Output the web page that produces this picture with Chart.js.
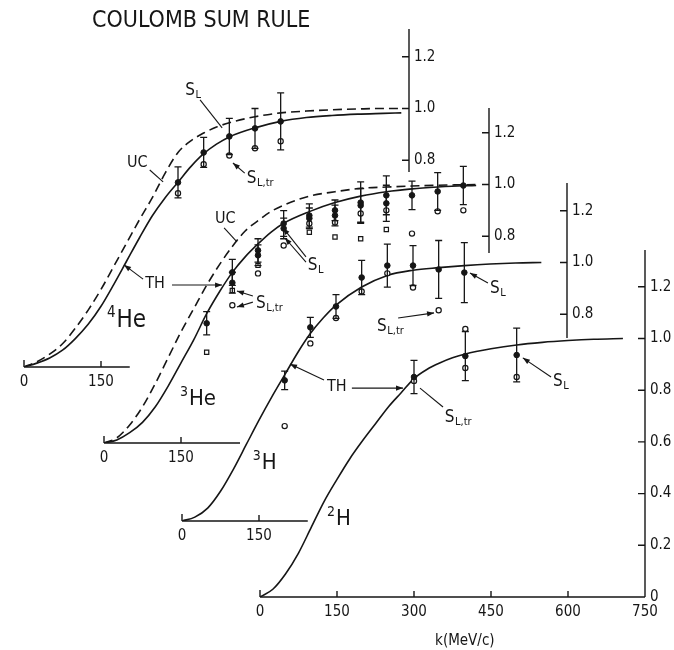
<!DOCTYPE html>
<html>
<head>
<meta charset="utf-8">
<title>Coulomb sum rule</title>
<script src="https://cdn.jsdelivr.net/npm/chart.js@4.4.1/dist/chart.umd.min.js"></script>
<style>
  html, body { margin: 0; padding: 0; background: #fff; }
  #wrap { position: relative; width: 674px; height: 650px; overflow: hidden; background: #fff; }
  #wrap canvas { position: absolute; left: 0; top: 0; }
</style>
</head>
<body>
<div id="wrap">
  <canvas id="c2H" width="674" height="650"></canvas>
  <canvas id="c3H" width="674" height="650"></canvas>
  <canvas id="c3He" width="674" height="650"></canvas>
  <canvas id="c4He" width="674" height="650"></canvas>
</div>
<script>
// ---------------- data ----------------
// momentum tick values and sum-rule tick values
const kTickValues = [0, 150, 300, 450, 600, 750];
const sTickValues = [0, 0.2, 0.4, 0.6, 0.8, 1.0, 1.2];
const kLabelsShort = [0, 150];
const sLabelsShort = [0.8, 1.0, 1.2];

// 4He: theory (TH) and uncorrelated (UC) curves
const kCurve4He = [0, 25, 50, 75, 100, 125, 150, 175, 200, 225, 250, 275, 300, 325, 350, 375, 400, 450, 500, 550, 600, 650, 700, 735];
const th4He = [0, 0.015, 0.035, 0.065, 0.11, 0.165, 0.235, 0.32, 0.41, 0.50, 0.585, 0.655, 0.715, 0.775, 0.825, 0.862, 0.89, 0.925, 0.95, 0.965, 0.973, 0.978, 0.981, 0.983];
const uc4He = [0, 0.02, 0.05, 0.09, 0.15, 0.22, 0.30, 0.39, 0.48, 0.57, 0.655, 0.75, 0.83, 0.875, 0.905, 0.928, 0.945, 0.968, 0.983, 0.99, 0.995, 0.998, 1.0, 1.0];
// 4He: measured S_L (with errors) and S_L,tr
const k4He = [300, 350, 400, 450, 500];
const sl4He = [0.714, 0.830, 0.892, 0.923, 0.950];
const sl4HeErr = [0.060, 0.058, 0.070, 0.077, 0.110];
const sltr4He = [0.672, 0.784, 0.818, 0.846, 0.873];

// 3He curves
const kCurve3He = [0, 25, 50, 75, 100, 125, 150, 175, 200, 225, 250, 275, 300, 325, 350, 400, 450, 500, 550, 600, 650, 700, 725];
const th3He = [0, 0.012, 0.04, 0.08, 0.14, 0.22, 0.31, 0.40, 0.50, 0.585, 0.66, 0.72, 0.77, 0.815, 0.85, 0.895, 0.93, 0.955, 0.972, 0.983, 0.99, 0.995, 0.996];
const uc3He = [0, 0.02, 0.07, 0.14, 0.23, 0.33, 0.43, 0.52, 0.61, 0.69, 0.76, 0.82, 0.86, 0.895, 0.92, 0.955, 0.972, 0.985, 0.99, 0.994, 0.997, 0.999, 1.0];
// 3He measurements (two S_L sets, S_L,tr circles and squares)
const k3He = [200, 250, 300, 350, 400, 450, 500, 550, 600, 650, 700];
const sl3He = [0.463, 0.660, 0.745, 0.849, 0.880, 0.900, 0.930, 0.958, 0.958, 0.973, 0.996];
const sl3HeErr = [0.045, 0.050, 0.045, 0.050, 0.045, 0.040, 0.080, 0.075, 0.055, 0.073, 0.074];
const k3HeB = [250, 300, 350, 400, 450, 500, 550];
const sl3HeB = [0.620, 0.726, 0.830, 0.869, 0.880, 0.919, 0.927];
const sl3HeBErr = [0.040, 0.040, 0.040, 0.040, 0.040, 0.065, 0.070];
const kTr3He = [250, 300, 350, 400, 450, 500, 550, 600, 650, 700];
const sltr3He = [0.533, 0.656, 0.764, 0.849, 0.853, 0.888, 0.900, 0.810, 0.896, 0.900];
const kSq3He = [200, 250, 300, 400, 450, 500, 550];
const sq3He = [0.351, 0.590, 0.687, 0.815, 0.797, 0.790, 0.826];

// 3H
const kCurve3H = [0, 25, 50, 75, 100, 125, 150, 175, 200, 225, 250, 275, 300, 350, 400, 450, 500, 550, 600, 650, 700];
const th3H = [0, 0.015, 0.05, 0.115, 0.20, 0.295, 0.39, 0.48, 0.565, 0.65, 0.725, 0.785, 0.835, 0.905, 0.95, 0.97, 0.98, 0.988, 0.994, 0.998, 1.0];
const k3H = [200, 250, 300, 350, 400, 450, 500, 550];
const sl3H = [0.544, 0.749, 0.830, 0.942, 0.988, 0.988, 0.973, 0.961];
const sl3HErr = [0.036, 0.039, 0.046, 0.066, 0.083, 0.077, 0.112, 0.116];
const kTr3H = [200, 250, 300, 350, 400, 450, 500];
const sltr3H = [0.367, 0.687, 0.785, 0.888, 0.958, 0.903, 0.815];

// 2H
const kCurve2H = [0, 25, 50, 75, 100, 125, 150, 175, 200, 225, 250, 275, 300, 325, 350, 375, 400, 450, 500, 550, 600, 650, 707];
const th2H = [0, 0.03, 0.09, 0.17, 0.27, 0.37, 0.455, 0.535, 0.605, 0.67, 0.735, 0.79, 0.845, 0.88, 0.905, 0.925, 0.94, 0.96, 0.975, 0.985, 0.992, 0.997, 1.0];
const k2H = [300, 400, 500];
const sl2H = [0.851, 0.932, 0.936];
const sl2HErr = [0.064, 0.095, 0.104];
const kTr2H = [300, 400, 400, 500];
const sltr2H = [0.836, 1.037, 0.886, 0.851];

// ---------------- drawing ----------------
const INK = '#161616';
const FONT = '"Liberation Sans Narrow", "DejaVu Sans Condensed", "Liberation Sans", sans-serif';
const CANVAS_W = 674, CANVAS_H = 650;
const AREA_W = 385;            // pixel length of 0..750 MeV/c
const S_MAX = 1.35;
const AREA_H = Math.round(S_MAX * 258.5);
const X_BAND = 30, Y_BAND = 30;

const pts = (ks, vs) => ks.map((k, i) => ({ x: k, y: vs[i] }));

function curve(ks, vs, dashed) {
  return {
    data: pts(ks, vs), showLine: true, pointRadius: 0, borderColor: INK,
    borderWidth: 1.6, borderDash: dashed ? [9, 5] : [], cubicInterpolationMode: 'monotone',
    fill: false, order: 10
  };
}
function filled(ks, vs, errs) {
  return { data: pts(ks, vs), errors: errs, showLine: false, pointStyle: 'circle', pointRadius: 2.8,
    pointBackgroundColor: INK, pointBorderColor: INK, pointBorderWidth: 1, order: 0 };
}
function openCircles(ks, vs) {
  return { data: pts(ks, vs), showLine: false, pointStyle: 'circle', pointRadius: 2.6,
    pointBackgroundColor: '#fff', pointBorderColor: INK, pointBorderWidth: 1.2, order: 2 };
}
function openSquares(ks, vs) {
  return { data: pts(ks, vs), showLine: false, pointStyle: 'rect', pointRadius: 3,
    pointBackgroundColor: '#fff', pointBorderColor: INK, pointBorderWidth: 1.2, order: 3 };
}

// vertical error bars with caps, drawn just before their own markers
const errorBars = {
  id: 'errorBars',
  beforeDatasetDraw(chart, args) {
    const ds = chart.data.datasets[args.index];
    if (!ds.errors) return;
    const { x, y } = chart.scales, ctx = chart.ctx;
    ctx.save();
    ctx.strokeStyle = INK; ctx.lineWidth = 1.3;
    ds.data.forEach((p, i) => {
      const e = ds.errors[i];
      if (!e) return;
      const px = x.getPixelForValue(p.x);
      const yt = y.getPixelForValue(p.y + e), yb = y.getPixelForValue(p.y - e);
      ctx.beginPath();
      ctx.moveTo(px, yt); ctx.lineTo(px, yb);
      ctx.moveTo(px - 3.5, yt); ctx.lineTo(px + 3.5, yt);
      ctx.moveTo(px - 3.5, yb); ctx.lineTo(px + 3.5, yb);
      ctx.stroke();
    });
    ctx.restore();
  }
};

// partial axis lines with inward tick marks
function axesPlugin(a) {
  return {
    id: 'panelAxes',
    beforeDatasetsDraw(chart) {
      const { x, y } = chart.scales, ctx = chart.ctx;
      ctx.save();
      ctx.strokeStyle = INK; ctx.lineWidth = 1.4;
      const y0 = y.getPixelForValue(0);
      const xr = x.getPixelForValue(750);
      ctx.beginPath();
      ctx.moveTo(x.getPixelForValue(0), y0);
      ctx.lineTo(x.getPixelForValue(a.xEnd), y0);
      a.xMarks.forEach(k => {
        const px = x.getPixelForValue(k);
        ctx.moveTo(px, y0); ctx.lineTo(px, y0 - (k === 0 ? 7 : 6));
      });
      ctx.moveTo(xr, y.getPixelForValue(a.yFrom));
      ctx.lineTo(xr, y.getPixelForValue(a.yTo));
      a.yMarks.forEach(s => {
        const py = y.getPixelForValue(s);
        ctx.moveTo(xr, py); ctx.lineTo(xr - 7, py);
      });
      ctx.stroke();
      ctx.restore();
    }
  };
}

// text labels and leader lines placed in the panel's own (k, S) coordinates
function notesPlugin(items) {
  return {
    id: 'notes',
    afterDraw(chart) {
      const { x, y } = chart.scales, ctx = chart.ctx;
      ctx.save();
      ctx.fillStyle = INK; ctx.strokeStyle = INK; ctx.lineWidth = 1.1;
      items.forEach(n => {
        if (n.from) {
          const x1 = x.getPixelForValue(n.from[0]), y1 = y.getPixelForValue(n.from[1]);
          const x2 = x.getPixelForValue(n.to[0]), y2 = y.getPixelForValue(n.to[1]);
          ctx.beginPath(); ctx.moveTo(x1, y1); ctx.lineTo(x2, y2); ctx.stroke();
          if (n.arrow) {
            const ang = Math.atan2(y2 - y1, x2 - x1), L = 7, Wd = 2.6;
            ctx.beginPath();
            ctx.moveTo(x2, y2);
            ctx.lineTo(x2 - L * Math.cos(ang) + Wd * Math.sin(ang), y2 - L * Math.sin(ang) - Wd * Math.cos(ang));
            ctx.lineTo(x2 - L * Math.cos(ang) - Wd * Math.sin(ang), y2 - L * Math.sin(ang) + Wd * Math.cos(ang));
            ctx.closePath(); ctx.fill();
          }
          return;
        }
        const size = n.size || 17;
        let px = x.getPixelForValue(n.k);
        const py = y.getPixelForValue(n.v);
        ctx.textBaseline = 'alphabetic';
        ctx.textAlign = n.align || 'left';
        if (n.sup) {
          ctx.font = `${Math.round(size * 0.62)}px ${FONT}`;
          ctx.fillText(n.sup, px, py - size * 0.42);
          px += ctx.measureText(n.sup).width + 1;
        }
        ctx.font = `${size}px ${FONT}`;
        ctx.fillText(n.text, px, py);
        if (n.sub) {
          const w = ctx.measureText(n.text).width;
          ctx.font = `${Math.round(size * 0.64)}px ${FONT}`;
          ctx.fillText(n.sub, px + w + 0.5, py + size * 0.2);
        }
      });
      ctx.restore();
    }
  };
}

const near = (v, list) => list.find(t => Math.abs(t - v) < 1e-6);

function panel(id, ox, oy, spec) {
  return new Chart(document.getElementById(id), {
    type: 'scatter',
    data: { datasets: spec.datasets },
    options: {
      responsive: false, animation: false, devicePixelRatio: 1, events: [],
      layout: {
        autoPadding: false,
        padding: { left: ox, top: oy - AREA_H, right: CANVAS_W - ox - AREA_W - Y_BAND, bottom: CANVAS_H - oy - X_BAND }
      },
      plugins: { legend: { display: false }, tooltip: { enabled: false }, title: { display: false } },
      scales: {
        x: {
          type: 'linear', min: 0, max: 750, position: 'bottom',
          border: { display: false }, grid: { display: false, drawTicks: false },
          afterFit: s => { s.height = X_BAND; },
          afterBuildTicks: s => { s.ticks = kTickValues.map(v => ({ value: v })); },
          ticks: {
            autoSkip: false, maxRotation: 0, padding: 6, color: INK,
            font: { family: FONT, size: 15 },
            callback: v => (near(v, spec.kLabels) !== undefined ? String(v) : '')
          }
        },
        y: {
          type: 'linear', min: 0, max: S_MAX, position: 'right',
          border: { display: false }, grid: { display: false, drawTicks: false },
          afterFit: s => { s.width = Y_BAND; },
          afterBuildTicks: s => { s.ticks = sTickValues.map(v => ({ value: v })); },
          ticks: {
            autoSkip: false, padding: 5, color: INK,
            font: { family: FONT, size: 15 },
            callback: v => {
              const t = near(v, spec.sLabels);
              return t === undefined ? '' : (t === 0 ? '0' : t.toFixed(1));
            }
          }
        }
      }
    },
    plugins: [errorBars, axesPlugin(spec.axes), notesPlugin(spec.notes)]
  });
}

// deuteron (front panel, full axes)
panel('c2H', 260, 597, {
  kLabels: kTickValues, sLabels: sTickValues,
  axes: { xEnd: 750, xMarks: [0, 150, 300, 450, 600], yFrom: 0, yTo: 1.342, yMarks: [0.2, 0.4, 0.6, 0.8, 1.0, 1.2] },
  datasets: [
    filled(k2H, sl2H, sl2HErr),
    openCircles(kTr2H, sltr2H),
    curve(kCurve2H, th2H, false)
  ],
  notes: [
    { text: 'H', sup: '2', k: 130.5, v: 0.279, size: 22 },
    { text: 'S', sub: 'L', k: 571, v: 0.816 },
    { from: [567, 0.851], to: [512, 0.925], arrow: true },
    { text: 'S', sub: 'L,tr', k: 360, v: 0.677 },
    { from: [356.5, 0.735], to: [311.7, 0.808], arrow: false },
    { from: [179, 0.808], to: [278.6, 0.808], arrow: true },
    { text: 'k(MeV/c)', k: 399, v: -0.186, size: 15, align: 'center' }
  ]
});

// triton
panel('c3H', 182, 521, {
  kLabels: kLabelsShort, sLabels: sLabelsShort,
  axes: { xEnd: 245, xMarks: [0, 150], yFrom: 0.708, yTo: 1.307, yMarks: [0.8, 1.0, 1.2] },
  datasets: [
    filled(k3H, sl3H, sl3HErr),
    openCircles(kTr3H, sltr3H),
    curve(kCurve3H, th3H, false)
  ],
  notes: [
    { text: 'H', sup: '3', k: 138, v: 0.201, size: 22 },
    { text: 'TH', k: 282.5, v: 0.503, size: 16 },
    { from: [276.6, 0.545], to: [210.4, 0.607], arrow: true },
    { text: 'S', sub: 'L', k: 600, v: 0.882 },
    { from: [596, 0.921], to: [561, 0.959], arrow: true },
    { text: 'S', sub: 'L,tr', k: 380, v: 0.735 },
    { from: [421, 0.785], to: [491, 0.805], arrow: true }
  ]
});

// helium-3
panel('c3He', 104, 443, {
  kLabels: kLabelsShort, sLabels: sLabelsShort,
  axes: { xEnd: 265, xMarks: [0, 150], yFrom: 0.735, yTo: 1.296, yMarks: [0.8, 1.0, 1.2] },
  datasets: [
    filled(k3He, sl3He, sl3HeErr),
    filled(k3HeB, sl3HeB, sl3HeBErr),
    openCircles(kTr3He, sltr3He),
    openSquares(kSq3He, sq3He),
    curve(kCurve3He, th3He, false),
    curve(kCurve3He, uc3He, true)
  ],
  notes: [
    { text: 'He', sup: '3', k: 148, v: 0.147, size: 22 },
    { text: 'UC', k: 216, v: 0.851, size: 16 },
    { from: [234, 0.832], to: [259, 0.778], arrow: false },
    { text: 'S', sub: 'L', k: 397, v: 0.669 },
    { from: [393.5, 0.72], to: [348.7, 0.832], arrow: true },
    { from: [393.5, 0.70], to: [352.6, 0.793], arrow: true },
    { text: 'S', sub: 'L,tr', k: 296, v: 0.522 },
    { from: [290, 0.569], to: [259, 0.588], arrow: true },
    { from: [290, 0.545], to: [259, 0.526], arrow: true },
    { from: [132.5, 0.611], to: [230, 0.611], arrow: true }
  ]
});

// helium-4 (back panel) with the figure heading
panel('c4He', 24, 367, {
  kLabels: kLabelsShort, sLabels: sLabelsShort,
  axes: { xEnd: 206, xMarks: [0, 150], yFrom: 0.754, yTo: 1.307, yMarks: [0.8, 1.0, 1.2] },
  datasets: [
    filled(k4He, sl4He, sl4HeErr),
    openCircles(k4He, sltr4He),
    curve(kCurve4He, th4He, false),
    curve(kCurve4He, uc4He, true)
  ],
  notes: [
    { text: 'COULOMB SUM RULE', k: 132.5, v: 1.315, size: 23 },
    { text: 'He', sup: '4', k: 161.7, v: 0.155, size: 24 },
    { text: 'S', sub: 'L', k: 314, v: 1.052 },
    { from: [343, 1.033], to: [386, 0.925], arrow: false },
    { text: 'S', sub: 'L,tr', k: 434, v: 0.712 },
    { from: [430, 0.75], to: [407, 0.789], arrow: true },
    { text: 'UC', k: 200.6, v: 0.774, size: 16 },
    { from: [245, 0.762], to: [271, 0.716], arrow: false },
    { text: 'TH', k: 236, v: 0.306, size: 16 },
    { from: [232, 0.34], to: [195, 0.395], arrow: true }
  ]
});
</script>
</body>
</html>
